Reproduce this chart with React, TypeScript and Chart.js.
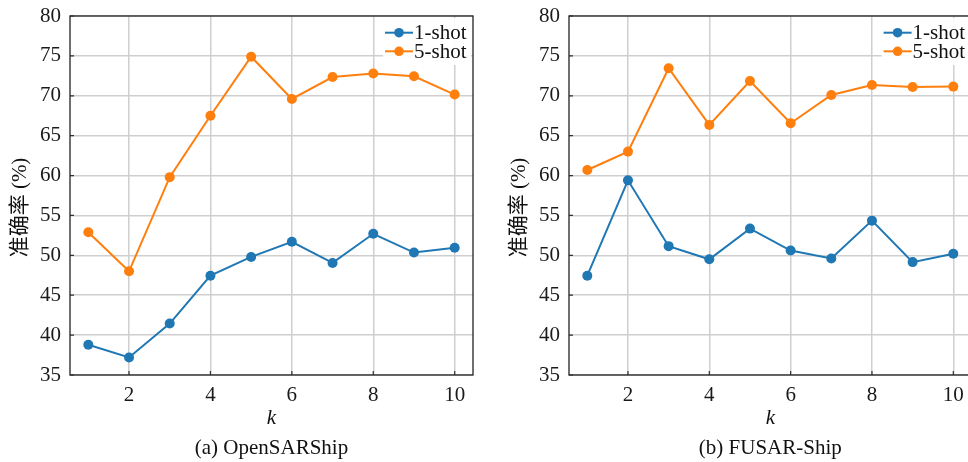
import React, { useEffect, useRef } from "react";
import { Chart, registerables } from "chart.js";

Chart.register(...registerables);

// ---- data ----
const kValues = [1, 2, 3, 4, 5, 6, 7, 8, 9, 10];
const xTickValues = [2, 4, 6, 8, 10];
const yTickValues = [35, 40, 45, 50, 55, 60, 65, 70, 75, 80];
const seriesNames = ["1-shot", "5-shot"];

const openShot1 = [38.8, 37.2, 41.45, 47.45, 49.8, 51.7, 49.05, 52.7, 50.35, 50.95];
const openShot5 = [52.9, 48.0, 59.8, 67.5, 74.9, 69.6, 72.35, 72.8, 72.45, 70.15];
const fusarShot1 = [47.45, 59.4, 51.15, 49.5, 53.35, 50.6, 49.6, 54.35, 49.15, 50.2];
const fusarShot5 = [60.7, 63.0, 73.45, 66.35, 71.85, 66.55, 70.1, 71.35, 71.1, 71.15];

const xTitle = "k";
const yTitle = "准确率 (%)";
const captionA = "(a) OpenSARShip";
const captionB = "(b) FUSAR-Ship";

// ---- styles ----
const SERIF = "'Liberation Serif', 'DejaVu Serif', serif";
const YFONT = "'Liberation Serif', 'Noto Sans CJK SC', serif";
const BLUE = "#1f77b4";
const ORANGE = "#ff7f0e";
const COLORS = [BLUE, ORANGE];
const H = 462;
const CA_TOP = 16;
const CA_BOTTOM = 375;
const FS = 21;

type PanelProps = {
  left: number;
  width: number;
  caLeft: number;
  caRight: number;
  caption: string;
  s1: number[];
  s5: number[];
};

function Panel({ left, width, caLeft, caRight, caption, s1, s5 }: PanelProps) {
  const ref = useRef<HTMLCanvasElement | null>(null);

  useEffect(() => {
    const canvas = ref.current;
    if (!canvas) return;
    const axisW = caLeft - left;
    const padRight = width - (caRight - left);

    const decor = {
      id: "decor",
      beforeDatasetsDraw(chart: any) {
        const { ctx, chartArea: ca, scales } = chart;
        ctx.save();
        ctx.strokeStyle = "#333";
        ctx.lineWidth = 1.2;
        ctx.beginPath();
        for (const v of xTickValues) {
          const x = scales.x.getPixelForValue(v);
          ctx.moveTo(x, ca.bottom);
          ctx.lineTo(x, ca.bottom - 4);
        }
        for (const v of yTickValues) {
          const y = scales.y.getPixelForValue(v);
          ctx.moveTo(ca.left, y);
          ctx.lineTo(ca.left + 4, y);
        }
        ctx.stroke();
        ctx.strokeStyle = "#222";
        ctx.lineWidth = 1.3;
        ctx.strokeRect(ca.left, ca.top, ca.right - ca.left, ca.bottom - ca.top);
        ctx.restore();
      },
      afterDatasetsDraw(chart: any) {
        const { ctx, chartArea: ca } = chart;
        ctx.save();
        ctx.fillStyle = "rgba(255,255,255,0.92)";
        ctx.fillRect(ca.right - 90, ca.top + 2, 88, 47);
        ctx.font = `${FS}px ${SERIF}`;
        ctx.textBaseline = "middle";
        ctx.textAlign = "left";
        const rows = [ca.top + 16.7, ca.top + 35.3];
        seriesNames.forEach((name, i) => {
          const y = rows[i];
          ctx.strokeStyle = COLORS[i];
          ctx.lineWidth = 2;
          ctx.beginPath();
          ctx.moveTo(ca.right - 88, y);
          ctx.lineTo(ca.right - 60, y);
          ctx.stroke();
          ctx.fillStyle = COLORS[i];
          ctx.beginPath();
          ctx.arc(ca.right - 74, y, 4.8, 0, Math.PI * 2);
          ctx.fill();
          ctx.fillStyle = "#111";
          ctx.fillText(name, ca.right - 59, y + 1);
        });
        ctx.restore();
      },
      afterDraw(chart: any) {
        const { ctx, chartArea: ca } = chart;
        const cx = (ca.left + ca.right) / 2;
        ctx.save();
        ctx.fillStyle = "#111";
        ctx.textAlign = "center";
        ctx.textBaseline = "alphabetic";
        ctx.font = `italic ${FS}px ${SERIF}`;
        ctx.fillText(xTitle, cx, 424);
        ctx.font = `${FS}px ${SERIF}`;
        ctx.fillText(caption, cx, 454);
        ctx.translate(ca.left - 50, 207.5);
        ctx.rotate(-Math.PI / 2);
        ctx.textBaseline = "middle";
        ctx.font = `${FS}px ${YFONT}`;
        ctx.fillText(yTitle, 0, 0);
        ctx.restore();
      },
    };

    const mk = (vals: number[]) => kValues.map((k, i) => ({ x: k, y: vals[i] }));
    const ds = (label: string, vals: number[], color: string) => ({
      label,
      data: mk(vals),
      borderColor: color,
      backgroundColor: color,
      pointBackgroundColor: color,
      pointBorderWidth: 0,
      pointRadius: 5,
      borderWidth: 2,
      tension: 0,
    });

    const chart = new Chart(canvas, {
      type: "line",
      data: {
        datasets: [ds(seriesNames[0], s1, BLUE), ds(seriesNames[1], s5, ORANGE)],
      },
      options: {
        animation: false,
        responsive: false,
        devicePixelRatio: 1,
        layout: { padding: { left: 0, right: padRight, top: CA_TOP, bottom: 0 } },
        plugins: {
          legend: { display: false },
          tooltip: { enabled: false },
          title: { display: false },
        },
        scales: {
          x: {
            type: "linear",
            min: 0.55,
            max: 10.45,
            afterBuildTicks: (s: any) => {
              s.ticks = xTickValues.map((v) => ({ value: v }));
            },
            afterFit: (s: any) => {
              s.height = H - CA_BOTTOM;
              s.paddingLeft = 0;
              s.paddingRight = 0;
              s.paddingTop = 0;
              s.paddingBottom = 0;
            },
            grid: { color: "#cfcfcf", lineWidth: 1.5, drawTicks: false },
            border: { display: false },
            ticks: {
              padding: 8,
              color: "#1a1a1a",
              font: { family: SERIF, size: FS },
              maxRotation: 0,
              callback: (v: any) => String(v),
            },
          },
          y: {
            type: "linear",
            min: 35,
            max: 80,
            afterBuildTicks: (s: any) => {
              s.ticks = yTickValues.map((v) => ({ value: v }));
            },
            afterFit: (s: any) => {
              s.width = axisW;
              s.paddingLeft = 0;
              s.paddingRight = 0;
              s.paddingTop = 0;
              s.paddingBottom = 0;
            },
            grid: { color: "#cfcfcf", lineWidth: 1.5, drawTicks: false },
            border: { display: false },
            ticks: {
              padding: 9,
              color: "#1a1a1a",
              font: { family: SERIF, size: FS },
              callback: (v: any) => String(v),
            },
          },
        },
      },
      plugins: [decor],
    } as any);

    return () => chart.destroy();
  }, [left, width, caLeft, caRight, caption, s1, s5]);

  return (
    <canvas
      ref={ref}
      width={width}
      height={H}
      style={{ position: "absolute", left, top: 0, width, height: H }}
    />
  );
}

export default function App() {
  return (
    <div
      style={{
        position: "fixed",
        left: 0,
        top: 0,
        width: 968,
        height: H,
        overflow: "hidden",
        background: "#fff",
      }}
    >
      <Panel left={0} width={484} caLeft={70} caRight={473} caption={captionA} s1={openShot1} s5={openShot5} />
      <Panel left={484} width={500} caLeft={569} caRight={971.6} caption={captionB} s1={fusarShot1} s5={fusarShot5} />
    </div>
  );
}
